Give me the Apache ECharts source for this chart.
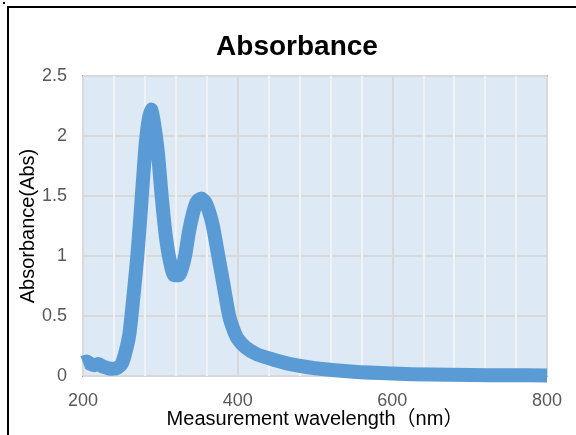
<!DOCTYPE html>
<html style="height: 100%">
<head>
<meta charset="utf-8">
<script src="https://cdn.jsdelivr.net/npm/echarts@6/dist/echarts.min.js"></script>
</head>
<body style="height: 100%; margin: 0; background: #fff">
<div id="container" style="width: 576px; height: 435px"></div>
<script>
// wavelength (nm) and absorbance
var wavelength = [200, 205, 210, 215, 220, 225, 230, 235, 240, 245, 250, 255, 260, 265, 270, 275, 280, 284, 288, 292,
    297, 302, 307, 312, 318, 324, 328, 332, 337, 342, 347, 353, 358, 363, 368, 375, 382, 389, 395, 400,
    410, 425, 450, 475, 500, 550, 600, 650, 700, 750, 800];
var absorbance = [0.11, 0.12, 0.10, 0.09, 0.10, 0.08, 0.07, 0.06, 0.06, 0.07, 0.10, 0.20, 0.35, 0.65, 0.98, 1.40, 1.85, 2.10, 2.22, 2.10,
    1.85, 1.48, 1.17, 0.97, 0.84, 0.84, 0.90, 1.00, 1.20, 1.35, 1.45, 1.48, 1.45, 1.37, 1.25, 1.00, 0.75, 0.50, 0.38, 0.31,
    0.24, 0.18, 0.13, 0.09, 0.065, 0.035, 0.02, 0.012, 0.008, 0.006, 0.005];
var xTicks = [200, 400, 600, 800];
var yTicks = [0, 0.5, 1, 1.5, 2, 2.5];

var chartTitle = 'Absorbance';
var xName = 'Measurement wavelength（nm）';
var yName = 'Absorbance(Abs)';

var points = wavelength.map(function (w, i) { return [w, absorbance[i]]; });

var myChart = echarts.init(document.getElementById('container'));
var font = 'Liberation Sans, Arial, Noto Sans CJK JP, sans-serif';

var option = {
    animation: false,
    backgroundColor: '#ffffff',
    graphic: [
        {
            type: 'rect',
            shape: { x: 8, y: 7, width: 800, height: 600 },
            style: { fill: 'none', stroke: '#000000', lineWidth: 2 }
        },
        {
            type: 'rect',
            shape: { x: 3, y: 2, width: 2, height: 2 },
            style: { fill: '#000000' }
        },
        {
            type: 'text',
            x: 297,
            y: 47,
            style: {
                text: chartTitle,
                align: 'center',
                verticalAlign: 'middle',
                fontFamily: font,
                fontWeight: 'bold',
                fontSize: 28,
                fill: '#000000'
            }
        }
    ],
    grid: {
        left: 83,
        right: 29,
        top: 76,
        bottom: 59,
        show: true,
        backgroundColor: '#DDE9F5',
        borderColor: '#A3A3A3',
        borderWidth: 2
    },
    xAxis: {
        type: 'value',
        min: xTicks[0],
        max: xTicks[xTicks.length - 1],
        interval: 200,
        name: xName,
        nameLocation: 'middle',
        nameGap: 33,
        nameMoveOverlap: false,
        nameTextStyle: { fontFamily: font, fontSize: 20, color: '#000000' },
        axisLine: { show: false },
        axisTick: { show: false },
        axisLabel: { fontFamily: font, fontSize: 18, color: '#595959', margin: 16 },
        splitLine: { show: true, lineStyle: { color: '#D9D9D9', width: 2 } },
        minorTick: { show: false, splitNumber: 5 },
        minorSplitLine: { show: true, lineStyle: { color: '#F0F2F4', width: 2 } }
    },
    yAxis: {
        type: 'value',
        min: yTicks[0],
        max: yTicks[yTicks.length - 1],
        interval: 0.5,
        name: yName,
        nameLocation: 'middle',
        nameGap: 45,
        nameMoveOverlap: false,
        nameTextStyle: { fontFamily: font, fontSize: 20, color: '#000000' },
        axisLine: { show: false },
        axisTick: { show: false },
        axisLabel: { fontFamily: font, fontSize: 18, color: '#595959', margin: 16 },
        splitLine: { show: true, lineStyle: { color: '#D9D9D9', width: 2 } }
    },
    series: [
        {
            type: 'line',
            data: points,
            smooth: 0.2,
            clip: false,
            symbol: 'none',
            lineStyle: { color: '#5B9BD5', width: 14, join: 'round', cap: 'butt' }
        }
    ]
};

myChart.setOption(option);
</script>
</body>
</html>
